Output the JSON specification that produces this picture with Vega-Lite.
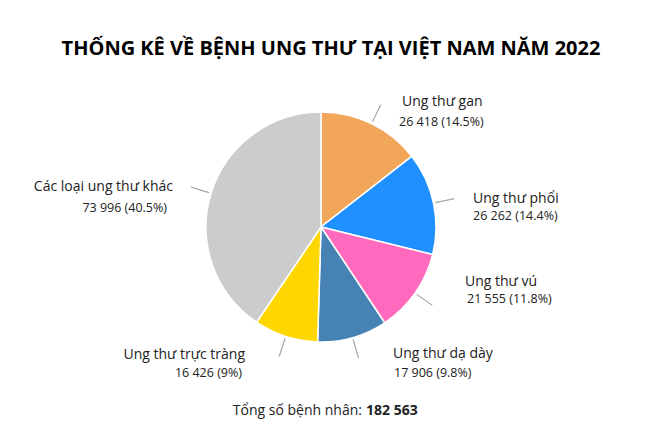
{
  "$schema": "https://vega.github.io/schema/vega-lite/v6.json",
  "width": 642,
  "height": 334,
  "autosize": {"type": "none"},
  "padding": {"left": 0, "right": 18, "top": 60, "bottom": 46},
  "background": "white",
  "config": {"view": {"stroke": null}, "font": "Open Sans"},
  "title": {
    "text": "THỐNG KÊ VỀ BỆNH UNG THƯ TẠI VIỆT NAM NĂM 2022",
    "font": "Open Sans",
    "fontSize": 20,
    "fontWeight": "bold",
    "color": "#000000",
    "anchor": "middle",
    "frame": "group",
    "baseline": "alphabetic",
    "offset": -15,
    "dx": 10
  },
  "layer": [
    {
      "data": {
        "values": [
          {"category": "Ung thư gan", "value": 26418, "label": "26 418 (14.5%)"},
          {"category": "Ung thư phổi", "value": 26262, "label": "26 262 (14.4%)"},
          {"category": "Ung thư vú", "value": 21555, "label": "21 555 (11.8%)"},
          {"category": "Ung thư dạ dày", "value": 17906, "label": "17 906 (9.8%)"},
          {"category": "Ung thư trực tràng", "value": 16426, "label": "16 426 (9%)"},
          {"category": "Các loại ung thư khác", "value": 73996, "label": "73 996 (40.5%)"}
        ]
      },
      "transform": [{"window": [{"op": "row_number", "as": "i"}]}],
      "encoding": {
        "theta": {"field": "value", "type": "quantitative", "stack": true},
        "order": {"field": "i", "type": "quantitative"},
        "detail": {"field": "category", "type": "nominal"}
      },
      "layer": [
        {
          "mark": {"type": "arc", "outerRadius": 115, "stroke": "#ffffff", "strokeWidth": 1.5},
          "encoding": {
            "color": {
              "field": "category",
              "type": "nominal",
              "legend": null,
              "scale": {
                "domain": ["Ung thư gan", "Ung thư phổi", "Ung thư vú", "Ung thư dạ dày", "Ung thư trực tràng", "Các loại ung thư khác"],
                "range": ["#F2A65A", "#1E90FF", "#FF69BE", "#4682B4", "#FFD700", "#CCCCCC"]
              }
            }
          }
        },
        {
          "mark": {"type": "arc", "radius": 136, "radius2": 117, "padAngle": 3.14, "fillOpacity": 0, "stroke": "#AAAAAA", "strokeWidth": 1}
        },
        {
          "mark": {"type": "text", "radius": 140, "align": "left", "baseline": "middle", "dx": 19.6, "dy": 0.8, "fontSize": 14, "color": "#222222"},
          "encoding": {"text": {"condition": {"test": "datum.category === 'Ung thư gan'", "field": "category"}, "value": ""}}
        },
        {
          "mark": {"type": "text", "radius": 140, "align": "left", "baseline": "middle", "dx": 16.6, "dy": 20.8, "fontSize": 12.5, "color": "#222222"},
          "encoding": {"text": {"condition": {"test": "datum.category === 'Ung thư gan'", "field": "label"}, "value": ""}}
        },
        {
          "mark": {"type": "text", "radius": 140, "align": "left", "baseline": "middle", "dx": 15.1, "dy": 1.1, "fontSize": 14, "color": "#222222"},
          "encoding": {"text": {"condition": {"test": "datum.category === 'Ung thư phổi'", "field": "category"}, "value": ""}}
        },
        {
          "mark": {"type": "text", "radius": 140, "align": "left", "baseline": "middle", "dx": 15.1, "dy": 18.1, "fontSize": 12.5, "color": "#222222"},
          "encoding": {"text": {"condition": {"test": "datum.category === 'Ung thư phổi'", "field": "label"}, "value": ""}}
        },
        {
          "mark": {"type": "text", "radius": 140, "align": "left", "baseline": "middle", "dx": 29.5, "dy": -25.6, "fontSize": 14, "color": "#222222"},
          "encoding": {"text": {"condition": {"test": "datum.category === 'Ung thư vú'", "field": "category"}, "value": ""}}
        },
        {
          "mark": {"type": "text", "radius": 140, "align": "left", "baseline": "middle", "dx": 31.5, "dy": -8.6, "fontSize": 12.5, "color": "#222222"},
          "encoding": {"text": {"condition": {"test": "datum.category === 'Ung thư vú'", "field": "label"}, "value": ""}}
        },
        {
          "mark": {"type": "text", "radius": 140, "align": "left", "baseline": "middle", "dx": 33.5, "dy": -7.6, "fontSize": 14, "color": "#222222"},
          "encoding": {"text": {"condition": {"test": "datum.category === 'Ung thư dạ dày'", "field": "category"}, "value": ""}}
        },
        {
          "mark": {"type": "text", "radius": 140, "align": "left", "baseline": "middle", "dx": 34.5, "dy": 11.4, "fontSize": 12.5, "color": "#222222"},
          "encoding": {"text": {"condition": {"test": "datum.category === 'Ung thư dạ dày'", "field": "label"}, "value": ""}}
        },
        {
          "mark": {"type": "text", "radius": 140, "align": "right", "baseline": "middle", "dx": -33, "dy": -5.2, "fontSize": 14, "color": "#222222"},
          "encoding": {"text": {"condition": {"test": "datum.category === 'Ung thư trực tràng'", "field": "category"}, "value": ""}}
        },
        {
          "mark": {"type": "text", "radius": 140, "align": "right", "baseline": "middle", "dx": -36, "dy": 12.8, "fontSize": 12.5, "color": "#222222"},
          "encoding": {"text": {"condition": {"test": "datum.category === 'Ung thư trực tràng'", "field": "label"}, "value": ""}}
        },
        {
          "mark": {"type": "text", "radius": 140, "align": "right", "baseline": "middle", "dx": -14.1, "dy": 1, "fontSize": 14, "color": "#222222"},
          "encoding": {"text": {"condition": {"test": "datum.category === 'Các loại ung thư khác'", "field": "category"}, "value": ""}}
        },
        {
          "mark": {"type": "text", "radius": 140, "align": "right", "baseline": "middle", "dx": -20.1, "dy": 22, "fontSize": 12.5, "color": "#222222"},
          "encoding": {"text": {"condition": {"test": "datum.category === 'Các loại ung thư khác'", "field": "label"}, "value": ""}}
        }
      ]
    },
    {
      "data": {"values": [{"caption": "Tổng số bệnh nhân:", "total": "182 563"}]},
      "layer": [
        {
          "mark": {"type": "text", "align": "right", "baseline": "middle", "dx": 41, "dy": 17, "fontSize": 14, "color": "#222222"},
          "encoding": {"text": {"field": "caption"}, "y": {"value": "height"}}
        },
        {
          "mark": {"type": "text", "align": "left", "baseline": "middle", "dx": 45, "dy": 17, "fontSize": 14, "fontWeight": "bold", "color": "#222222"},
          "encoding": {"text": {"field": "total"}, "y": {"value": "height"}}
        }
      ]
    }
  ]
}
